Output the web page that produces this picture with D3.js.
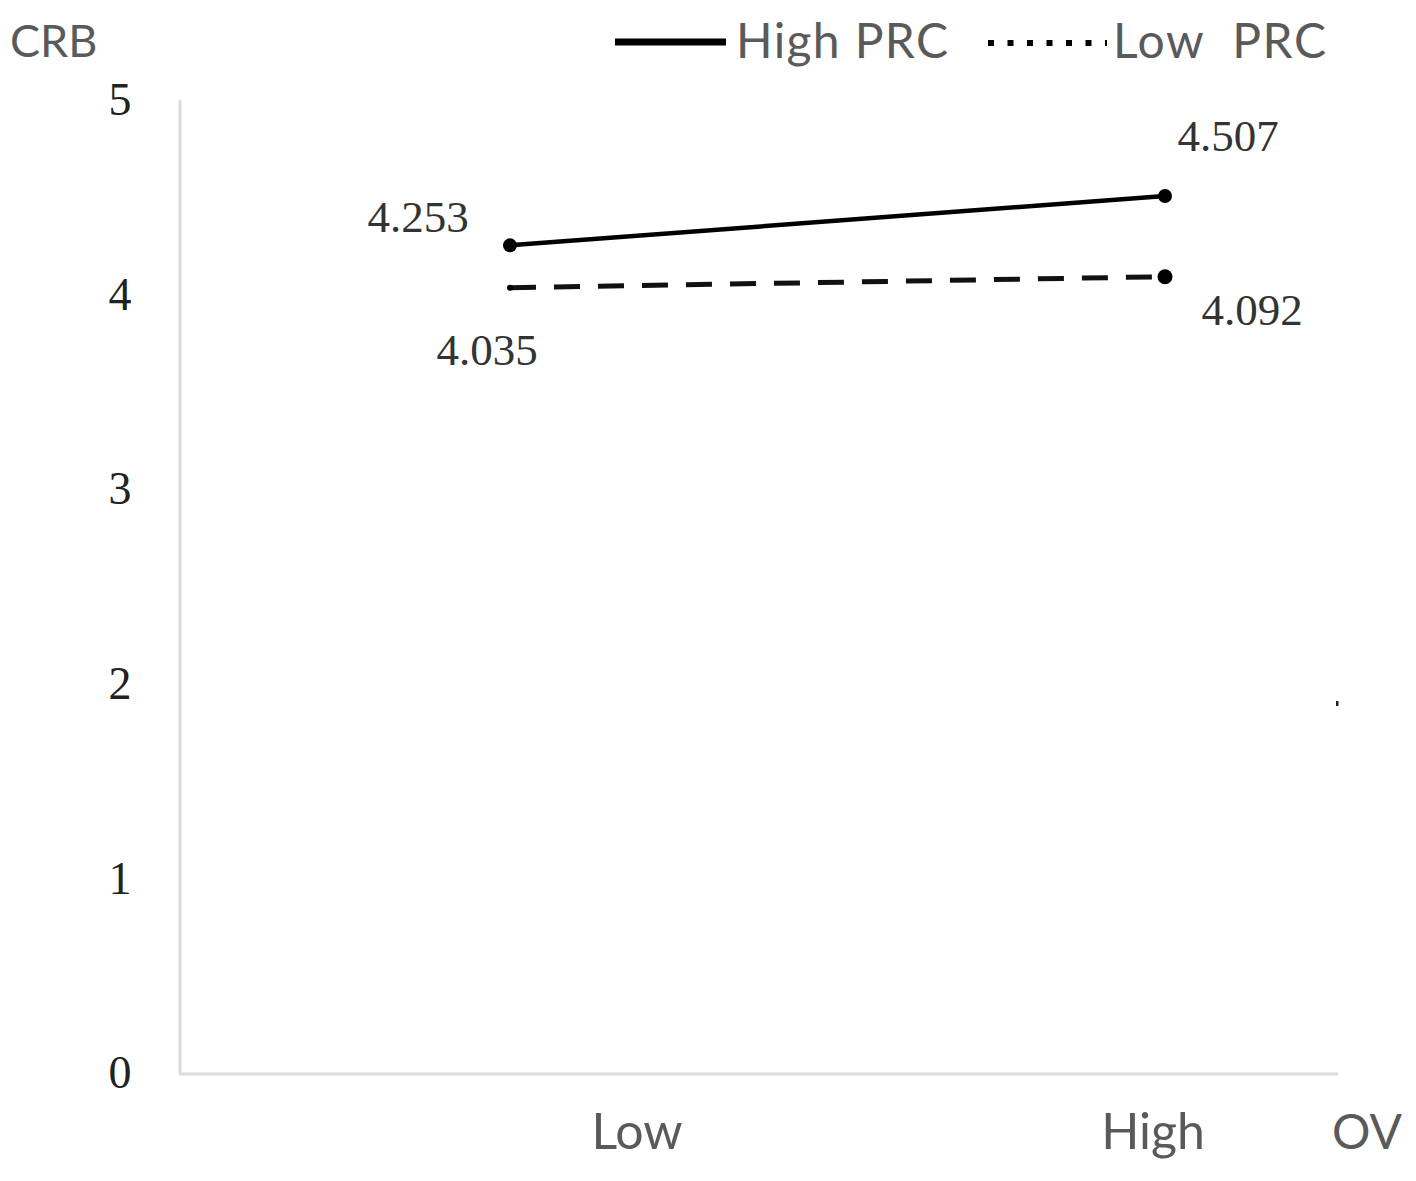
<!DOCTYPE html>
<html><head><meta charset="utf-8">
<script src="https://cdn.jsdelivr.net/npm/d3@7"></script>
<style>body{margin:0;background:#fff;} svg{display:block;}</style>
</head><body>
<svg id="c" width="1416" height="1181"></svg>
<script>
const categories = ["Low", "High"];
const highPRC = [4.253, 4.507];
const lowPRC = [4.035, 4.092];
const yTicks = [0, 1, 2, 3, 4, 5];
const seriesNames = ["High PRC", "Low  PRC"];

const svg = d3.select("#c");
const y = d3.scaleLinear().domain([0, 5]).range([1073, 100]);
const x = d3.scalePoint().domain(categories).range([510, 1165]);
const sans = "Lato, 'Open Sans', sans-serif";
const serif = "'Liberation Serif', 'DejaVu Serif', serif";
const grey = "#5a5a5a";

// axes lines
svg.append("line").attr("x1",180).attr("x2",180).attr("y1",100).attr("y2",1074)
  .attr("stroke","#dcdcdc").attr("stroke-width",3);
svg.append("line").attr("x1",179).attr("x2",1338).attr("y1",1074).attr("y2",1074)
  .attr("stroke","#dcdcdc").attr("stroke-width",3);

// y tick labels
const yAxis = d3.axisLeft(y).tickValues(yTicks).tickSize(0).tickPadding(60).tickFormat(d3.format("d"));
const ga = svg.append("g").attr("transform","translate(180,0)").call(yAxis);
ga.select(".domain").remove();
ga.selectAll("text").attr("font-family",serif).attr("font-size",46).attr("fill","#222")
  .attr("text-anchor","middle").attr("dy","0.32em");

// x labels
const xLabelOffset = {Low: 127, High: -12};
svg.selectAll("text.xl").data(categories).enter().append("text").attr("class","xl")
  .attr("x", d => x(d) + xLabelOffset[d]).attr("y",1149)
  .attr("text-anchor","middle").attr("font-family",sans).attr("font-size",50).attr("fill",grey)
  .text(d => d);
svg.append("text").attr("x",1367).attr("y",1149).attr("text-anchor","middle")
  .attr("font-family",sans).attr("font-size",48).attr("fill",grey).text("OV");
svg.append("text").attr("x",10).attr("y",57)
  .attr("font-family",sans).attr("font-size",45).attr("fill",grey).text("CRB");

// lines
const line = d3.line().x((d,i) => x(categories[i])).y(d => y(d));
svg.append("path").datum(highPRC).attr("d",line).attr("fill","none")
  .attr("stroke","#000").attr("stroke-width",4.5);
svg.append("path").datum(lowPRC).attr("d",line).attr("fill","none")
  .attr("stroke","#111").attr("stroke-width",5).attr("stroke-dasharray","26,18");

// markers
svg.selectAll("circle.h").data(highPRC).enter().append("circle")
  .attr("cx",(d,i)=>x(categories[i])).attr("cy",d=>y(d)).attr("r",7).attr("fill","#000");
svg.selectAll("circle.l").data(lowPRC).enter().append("circle")
  .attr("cx",(d,i)=>x(categories[i])).attr("cy",d=>y(d)).attr("r",(d,i)=> i===0?3:7.5).attr("fill","#000");

// value labels
const fmt = d3.format(".3f");
const hOff = [{dx:-92, dy:-13}, {dx:63, dy:-45}];
const lOff = [{dx:-23, dy:77}, {dx:87, dy:48}];
svg.selectAll("text.hv").data(highPRC).enter().append("text")
  .attr("x",(d,i)=>x(categories[i])+hOff[i].dx).attr("y",(d,i)=>y(d)+hOff[i].dy)
  .attr("text-anchor","middle").attr("font-family",serif).attr("font-size",45).attr("fill","#333")
  .text(d=>fmt(d));
svg.selectAll("text.lv").data(lowPRC).enter().append("text")
  .attr("x",(d,i)=>x(categories[i])+lOff[i].dx).attr("y",(d,i)=>y(d)+lOff[i].dy)
  .attr("text-anchor","middle").attr("font-family",serif).attr("font-size",45).attr("fill","#333")
  .text(d=>fmt(d));

// stray dot
svg.append("rect").attr("x",1336).attr("y",701).attr("width",2.5).attr("height",5).attr("fill","#222");

// legend
svg.append("line").attr("x1",615).attr("x2",726).attr("y1",42).attr("y2",42)
  .attr("stroke","#000").attr("stroke-width",7);
svg.append("text").attr("x",736).attr("y",58).attr("font-family",sans).attr("font-size",48)
  .attr("fill",grey).attr("textLength",212).text(seriesNames[0]);
svg.append("line").attr("x1",988).attr("x2",1107).attr("y1",43).attr("y2",43)
  .attr("stroke","#000").attr("stroke-width",6).attr("stroke-dasharray","6,13.5");
svg.append("text").attr("x",1113).attr("y",58).attr("font-family",sans).attr("font-size",48)
  .attr("fill",grey).attr("textLength",213).attr("xml:space","preserve").style("white-space","pre").text(seriesNames[1]);
</script>
</body></html>
